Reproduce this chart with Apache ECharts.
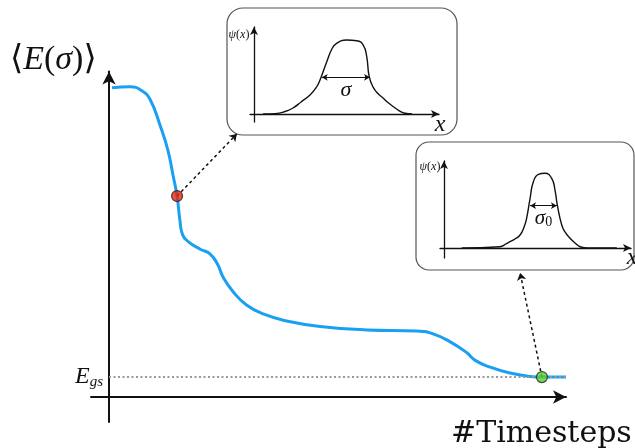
<!DOCTYPE html>
<html>
<head>
<meta charset="utf-8">
<script src="https://cdn.jsdelivr.net/npm/echarts@6/dist/echarts.min.js"></script>
<style>
  html, body { margin: 0; padding: 0; background: #fff; }
  #chart { width: 635px; height: 448px; }
</style>
</head>
<body>
<div id="chart"></div>
<script>
// Energy expectation <E(sigma)> against optimisation timesteps (schematic units)
const energyT = [0.65, 4.5, 7.1, 8.9, 11.0, 12.7, 13.8, 14.7, 15.3, 15.9, 17.1, 19.7, 21.8, 23.5, 24.6, 26.8, 29.7, 33.3, 38.4, 45.6, 55.7, 66.5, 70.0, 73.7, 77.3, 79.0, 82.3, 86.6, 90.9, 93.5, 98.7];
const energyE = [93.1, 93.4, 92.2, 89.5, 81.9, 74.4, 66.9, 60.5, 53.3, 48.8, 46.8, 44.5, 43.1, 39.8, 36.2, 31.7, 27.7, 25.0, 22.9, 21.2, 20.2, 19.9, 19.0, 16.6, 13.3, 11.1, 9.0, 7.2, 6.2, 6.0, 6.0];
const groundStateEnergy = 6.0;

// Highlighted states and where their callouts point
const earlyState = [14.7, 60.5];
const finalState = [93.5, 6.0];
const earlyCalloutEnd = [27.6, 79.2];
const finalCalloutEnd = [88.8, 37.3];

// Wavefunction snapshots psi(x)
const wideX = [0.47, 1.09, 1.61, 2.02, 2.44, 2.90, 3.21, 3.42, 3.77, 4.03, 4.28, 4.80, 5.32, 5.66, 5.84, 5.97, 6.18, 6.42, 6.70, 6.94, 7.22, 7.51, 7.82, 8.19];
const wideY = [0, 0.004, 0.027, 0.066, 0.132, 0.209, 0.286, 0.374, 0.575, 0.711, 0.777, 0.813, 0.805, 0.758, 0.630, 0.410, 0.293, 0.225, 0.173, 0.126, 0.080, 0.038, 0.008, 0];
const wideSigma = { from: 3.51, to: 6.01, level: 0.403 };

const narrowX = [0.92, 2.90, 3.21, 3.42, 3.68, 3.94, 4.15, 4.28, 4.46, 4.63, 4.89, 5.23, 5.58, 5.75, 5.87, 6.10, 6.27, 6.53, 6.79, 7.05, 7.46, 8.95];
const narrowY = [0, 0.014, 0.044, 0.069, 0.099, 0.143, 0.231, 0.326, 0.546, 0.729, 0.810, 0.821, 0.766, 0.637, 0.473, 0.253, 0.176, 0.107, 0.055, 0.014, 0, 0];
const narrowSigma = { from: 4.46, to: 5.85, level: 0.465 };

const zip = (xs, ys) => xs.map((x, i) => [x, ys[i]]);

const SERIF = "'Liberation Serif', 'DejaVu Serif', serif";
const INK = '#111';

function sketchAxis(gridIndex, min, max, width, arrow) {
  return {
    type: 'value', gridIndex, min, max,
    axisLine: {
      show: true, onZero: true,
      symbol: ['none', 'arrow'], symbolSize: arrow,
      lineStyle: { color: INK, width }
    },
    axisTick: { show: false },
    axisLabel: { show: false },
    splitLine: { show: false }
  };
}

const chart = echarts.init(document.getElementById('chart'), null, { renderer: 'canvas' });

chart.setOption({
  animation: false,
  backgroundColor: '#fff',
  grid: [
    { left: 91, right: 69, top: 71.5, bottom: 26 },
    { left: 250, right: 196, top: 27, bottom: 326 },
    { left: 440, right: 4, top: 161, bottom: 190 }
  ],
  xAxis: [
    sketchAxis(0, -3.89, 98.7, 2, [10, 13]),
    sketchAxis(1, -0.207, 9.585, 1.3, [6, 8]),
    sketchAxis(2, -0.207, 9.689, 1.3, [6, 8])
  ],
  yAxis: [
    sketchAxis(0, -7.53, 98.0, 2, [10, 13]),
    sketchAxis(1, -0.088, 0.956, 1.3, [6, 8]),
    sketchAxis(2, -0.11, 0.956, 1.3, [6, 8])
  ],
  series: [
    {
      // ground-state reference level
      type: 'line', xAxisIndex: 0, yAxisIndex: 0, data: [], z: 1,
      markLine: {
        silent: true, symbol: ['none', 'none'],
        lineStyle: { color: '#999', width: 2, type: [2, 2.5] },
        label: {
          show: true, position: 'start', distance: 6,
          formatter: '{e|E}{s|gs}',
          rich: {
            e: { fontFamily: SERIF, fontStyle: 'italic', fontSize: 24, color: INK },
            s: { fontFamily: SERIF, fontStyle: 'italic', fontSize: 15, color: INK, padding: [10, 0, 0, 0] }
          }
        },
        data: [[{ coord: [0, groundStateEnergy] }, { coord: [98.7, groundStateEnergy] }]]
      }
    },
    {
      type: 'line', xAxisIndex: 0, yAxisIndex: 0, z: 3,
      data: zip(energyT, energyE),
      smooth: 0.5, showSymbol: false,
      lineStyle: { color: '#1aa0f2', width: 3 },
      markLine: {
        silent: true, symbol: ['none', 'arrow'], symbolSize: 7,
        lineStyle: { color: INK, width: 1.5, type: [3, 3] },
        label: { show: false },
        data: [
          [{ coord: earlyState }, { coord: earlyCalloutEnd }],
          [{ coord: finalState }, { coord: finalCalloutEnd }]
        ]
      }
    },
    {
      type: 'scatter', xAxisIndex: 0, yAxisIndex: 0, z: 5,
      symbolSize: 11,
      itemStyle: { borderColor: '#222', borderWidth: 1.2 },
      data: [
        { value: earlyState, itemStyle: { color: '#e8260f' } },
        { value: finalState, itemStyle: { color: '#55d12a' } }
      ]
    },
    {
      type: 'line', xAxisIndex: 1, yAxisIndex: 1,
      data: zip(wideX, wideY),
      smooth: 0.5, showSymbol: false,
      lineStyle: { color: INK, width: 1.4 },
      markLine: {
        silent: true, symbol: ['arrow', 'arrow'], symbolSize: [5, 6],
        lineStyle: { color: INK, width: 1, type: 'solid' },
        label: {
          show: true, position: 'insideMiddleBottom', distance: 2,
          formatter: 'σ', fontFamily: SERIF, fontStyle: 'italic', fontSize: 22, color: INK
        },
        data: [[{ coord: [wideSigma.from, wideSigma.level] }, { coord: [wideSigma.to, wideSigma.level] }]]
      }
    },
    {
      type: 'line', xAxisIndex: 2, yAxisIndex: 2,
      data: zip(narrowX, narrowY),
      smooth: 0.5, showSymbol: false,
      lineStyle: { color: INK, width: 1.4 },
      markLine: {
        silent: true, symbol: ['arrow', 'arrow'], symbolSize: [5, 6],
        lineStyle: { color: INK, width: 1, type: 'solid' },
        label: {
          show: true, position: 'insideMiddleBottom', distance: 2,
          formatter: '{a|σ}{b|0}',
          rich: {
            a: { fontFamily: SERIF, fontStyle: 'italic', fontSize: 21, color: INK },
            b: { fontFamily: SERIF, fontSize: 14, color: INK, padding: [8, 0, 0, 0] }
          }
        },
        data: [[{ coord: [narrowSigma.from, narrowSigma.level] }, { coord: [narrowSigma.to, narrowSigma.level] }]]
      }
    }
  ],
  graphic: [
    { type: 'rect', z: 0, shape: { x: 227, y: 8, width: 230, height: 127, r: 16 },
      style: { fill: 'none', stroke: '#555', lineWidth: 1.2 } },
    { type: 'rect', z: 0, shape: { x: 416, y: 142, width: 218, height: 128, r: 13 },
      style: { fill: 'none', stroke: '#555', lineWidth: 1.2 } },
    { type: 'text', x: 10, y: 60, z: 10,
      style: {
        text: '{n|⟨}{i|E}{n|(}{i|σ}{n|)⟩}', textVerticalAlign: 'middle',
        rich: {
          n: { fontFamily: SERIF, fontSize: 34, fill: INK },
          i: { fontFamily: SERIF, fontSize: 34, fontStyle: 'italic', fill: INK }
        }
      } },
    { type: 'text', x: 451, y: 434, z: 10,
      style: { text: '#Timesteps', font: "30px 'DejaVu Serif', serif", fill: INK, textVerticalAlign: 'middle' } },
    { type: 'text', x: 239, y: 35, z: 10,
      style: { text: '{p|ψ}{n|(}{p|x}{n|)}', textAlign: 'center', textVerticalAlign: 'middle',
        rich: { p: { fontFamily: SERIF, fontStyle: 'italic', fontSize: 12, fill: INK },
                n: { fontFamily: SERIF, fontSize: 12, fill: INK } } } },
    { type: 'text', x: 430, y: 167, z: 10,
      style: { text: '{p|ψ}{n|(}{p|x}{n|)}', textAlign: 'center', textVerticalAlign: 'middle',
        rich: { p: { fontFamily: SERIF, fontStyle: 'italic', fontSize: 12, fill: INK },
                n: { fontFamily: SERIF, fontSize: 12, fill: INK } } } },
    { type: 'text', x: 440, y: 125, z: 10,
      style: { text: 'x', font: "italic 24px 'Liberation Serif', serif", fill: INK, textAlign: 'center', textVerticalAlign: 'middle' } },
    { type: 'text', x: 632, y: 258, z: 10,
      style: { text: 'x', font: "italic 24px 'Liberation Serif', serif", fill: INK, textAlign: 'center', textVerticalAlign: 'middle' } }
  ]
});
</script>
</body>
</html>
